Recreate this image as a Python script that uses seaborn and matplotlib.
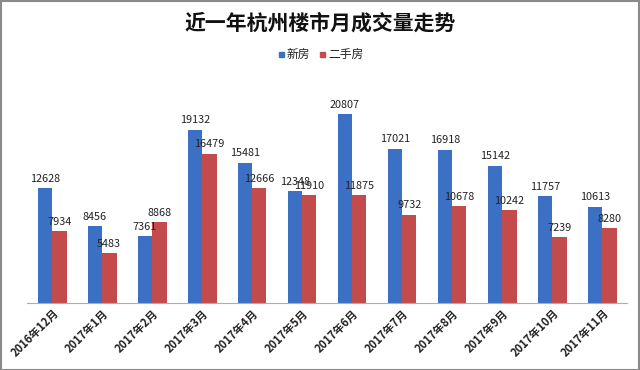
import seaborn as sns
import pandas as pd
from matplotlib import pyplot as plt
from matplotlib.patches import Rectangle

months = ["2016年12月", "2017年1月", "2017年2月", "2017年3月", "2017年4月", "2017年5月",
          "2017年6月", "2017年7月", "2017年8月", "2017年9月", "2017年10月", "2017年11月"]
new_homes = [12628, 8456, 7361, 19132, 15481, 12348, 20807, 17021, 16918, 15142, 11757, 10613]
resale_homes = [7934, 5483, 8868, 16479, 12666, 11910, 11875, 9732, 10678, 10242, 7239, 8280]
series_names = ["新房", "二手房"]
colors = ["#3b70c4", "#c44b4b"]

df = pd.DataFrame({
    "month": months * 2,
    "value": new_homes + resale_homes,
    "type": [series_names[0]] * len(months) + [series_names[1]] * len(months),
})

sns.set_style("white")
plt.rcParams["font.family"] = ["Noto Sans CJK SC", "DejaVu Sans"]

fig = plt.figure(figsize=(6.4, 3.7), dpi=100)
ax = fig.add_axes([27 / 640, 1 - 302.7 / 370, 600 / 640, (302.7 - 90) / 370])

sns.barplot(data=df, x="month", y="value", hue="type", palette=colors,
            width=0.58, saturation=1, gap=0, linewidth=0, legend=False, ax=ax)

ax.set_ylim(0, 23500)
ax.set_xlim(-0.5, 11.5)
for container in ax.containers:
    ax.bar_label(container, padding=3, fontsize=7.8, color="#222222")

ax.set_xlabel("")
ax.set_ylabel("")
ax.set_yticks([])
for side in ["left", "right", "top"]:
    ax.spines[side].set_visible(False)
ax.spines["bottom"].set_color("#9ab4bc")
ax.spines["bottom"].set_linewidth(0.8)
ax.tick_params(axis="x", length=0, pad=3)
plt.setp(ax.get_xticklabels(), rotation=45, ha="right", rotation_mode="anchor",
         fontsize=8, color="#222222", fontweight="semibold")

fig.text(0.5, 1 - 23 / 370, "近一年杭州楼市月成交量走势", ha="center", va="center",
         fontsize=15, fontweight="bold", color="#111111")

# legend
for x0, name, c in [(279, series_names[0], colors[0]), (320, series_names[1], colors[1])]:
    fig.patches.append(Rectangle((x0 / 640, 1 - 57 / 370), 5 / 640, 5 / 370,
                                 transform=fig.transFigure, color=c))
    fig.text((x0 + 8) / 640, 1 - 54 / 370, name, ha="left", va="center",
             fontsize=8.5, color="#222222")

fig.patches.append(Rectangle((0.001, 0.001), 0.998, 0.997, transform=fig.transFigure,
                             fill=False, edgecolor="#8a8a8a", linewidth=1.5))

plt.savefig("out.png", dpi=100)
